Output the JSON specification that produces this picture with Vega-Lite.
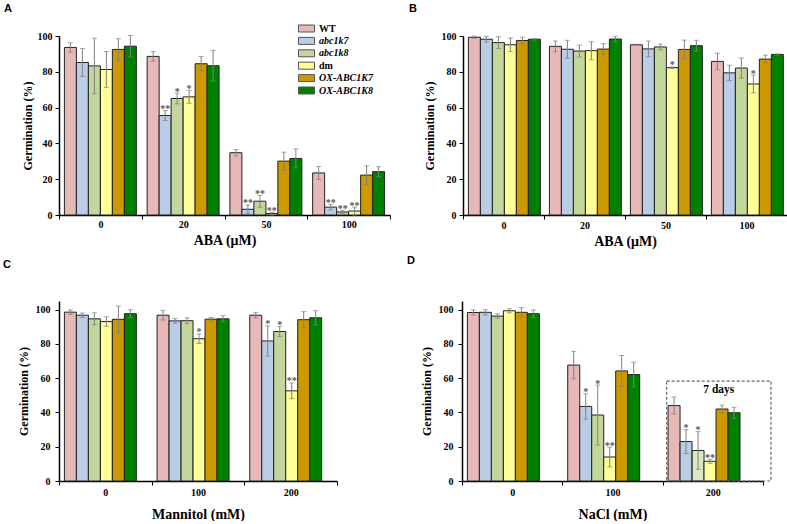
{
  "$schema": "https://vega.github.io/schema/vega-lite/v6.json",
  "padding": {"left": 3, "top": 2, "right": 0, "bottom": 0},
  "background": "white",
  "datasets": {
    "A": [
      {"g": "0", "geno": "WT", "m": 93.6, "e": 2.6, "s": ""},
      {"g": "0", "geno": "abc1k7", "m": 85.2, "e": 7.8, "s": ""},
      {"g": "0", "geno": "abc1k8", "m": 83.3, "e": 15.5, "s": ""},
      {"g": "0", "geno": "dm", "m": 81.3, "e": 10, "s": ""},
      {"g": "0", "geno": "OX-ABC1K7", "m": 92.5, "e": 6, "s": ""},
      {"g": "0", "geno": "OX-ABC1K8", "m": 94.3, "e": 6, "s": ""},
      {"g": "20", "geno": "WT", "m": 88.6, "e": 2.7, "s": ""},
      {"g": "20", "geno": "abc1k7", "m": 55.6, "e": 2.8, "s": "**"},
      {"g": "20", "geno": "abc1k8", "m": 65.1, "e": 3, "s": "*"},
      {"g": "20", "geno": "dm", "m": 66, "e": 3.6, "s": "*"},
      {"g": "20", "geno": "OX-ABC1K7", "m": 84.5, "e": 4, "s": ""},
      {"g": "20", "geno": "OX-ABC1K8", "m": 83.4, "e": 8.6, "s": ""},
      {"g": "50", "geno": "WT", "m": 34.8, "e": 1.8, "s": ""},
      {"g": "50", "geno": "abc1k7", "m": 3.2, "e": 2.4, "s": "**"},
      {"g": "50", "geno": "abc1k8", "m": 7.7, "e": 3.3, "s": "**"},
      {"g": "50", "geno": "dm", "m": 0.8, "e": 0.8, "s": "**"},
      {"g": "50", "geno": "OX-ABC1K7", "m": 30.1, "e": 5, "s": ""},
      {"g": "50", "geno": "OX-ABC1K8", "m": 31.6, "e": 5.3, "s": ""},
      {"g": "100", "geno": "WT", "m": 23.5, "e": 3.6, "s": ""},
      {"g": "100", "geno": "abc1k7", "m": 4.4, "e": 1.6, "s": "**"},
      {"g": "100", "geno": "abc1k8", "m": 1.7, "e": 1, "s": "**"},
      {"g": "100", "geno": "dm", "m": 2.2, "e": 2.2, "s": "**"},
      {"g": "100", "geno": "OX-ABC1K7", "m": 22.3, "e": 5.2, "s": ""},
      {"g": "100", "geno": "OX-ABC1K8", "m": 24.2, "e": 2.8, "s": ""}
    ],
    "B": [
      {"g": "0", "geno": "WT", "m": 99.3, "e": 0.6, "s": ""},
      {"g": "0", "geno": "abc1k7", "m": 98.2, "e": 1.6, "s": ""},
      {"g": "0", "geno": "abc1k8", "m": 96.3, "e": 3.3, "s": ""},
      {"g": "0", "geno": "dm", "m": 95.1, "e": 3.8, "s": ""},
      {"g": "0", "geno": "OX-ABC1K7", "m": 97.5, "e": 1.8, "s": ""},
      {"g": "0", "geno": "OX-ABC1K8", "m": 98.2, "e": 0.4, "s": ""},
      {"g": "20", "geno": "WT", "m": 94.2, "e": 3, "s": ""},
      {"g": "20", "geno": "abc1k7", "m": 92.6, "e": 5, "s": ""},
      {"g": "20", "geno": "abc1k8", "m": 91.6, "e": 3.3, "s": ""},
      {"g": "20", "geno": "dm", "m": 91.8, "e": 5, "s": ""},
      {"g": "20", "geno": "OX-ABC1K7", "m": 92.7, "e": 3, "s": ""},
      {"g": "20", "geno": "OX-ABC1K8", "m": 98.3, "e": 1.5, "s": ""},
      {"g": "50", "geno": "WT", "m": 95.1, "e": 0.3, "s": ""},
      {"g": "50", "geno": "abc1k7", "m": 92.8, "e": 4.4, "s": ""},
      {"g": "50", "geno": "abc1k8", "m": 93.9, "e": 1.6, "s": ""},
      {"g": "50", "geno": "dm", "m": 82.3, "e": 0.4, "s": "*"},
      {"g": "50", "geno": "OX-ABC1K7", "m": 92.5, "e": 5.2, "s": ""},
      {"g": "50", "geno": "OX-ABC1K8", "m": 94.6, "e": 3, "s": ""},
      {"g": "100", "geno": "WT", "m": 85.8, "e": 4.6, "s": ""},
      {"g": "100", "geno": "abc1k7", "m": 79.4, "e": 4.3, "s": ""},
      {"g": "100", "geno": "abc1k8", "m": 82.1, "e": 5.6, "s": ""},
      {"g": "100", "geno": "dm", "m": 73.2, "e": 5, "s": "*"},
      {"g": "100", "geno": "OX-ABC1K7", "m": 87.1, "e": 2.2, "s": ""},
      {"g": "100", "geno": "OX-ABC1K8", "m": 89.7, "e": 0.3, "s": ""}
    ],
    "C": [
      {"g": "0", "geno": "WT", "m": 98.5, "e": 1.3, "s": ""},
      {"g": "0", "geno": "abc1k7", "m": 96.7, "e": 1.3, "s": ""},
      {"g": "0", "geno": "abc1k8", "m": 94.6, "e": 3.5, "s": ""},
      {"g": "0", "geno": "dm", "m": 93, "e": 2.8, "s": ""},
      {"g": "0", "geno": "OX-ABC1K7", "m": 94.3, "e": 7.8, "s": ""},
      {"g": "0", "geno": "OX-ABC1K8", "m": 97.6, "e": 2.3, "s": ""},
      {"g": "100", "geno": "WT", "m": 96.7, "e": 2.8, "s": ""},
      {"g": "100", "geno": "abc1k7", "m": 93.4, "e": 1.4, "s": ""},
      {"g": "100", "geno": "abc1k8", "m": 93.5, "e": 1.7, "s": ""},
      {"g": "100", "geno": "dm", "m": 83, "e": 2.8, "s": "*"},
      {"g": "100", "geno": "OX-ABC1K7", "m": 94.4, "e": 1, "s": ""},
      {"g": "100", "geno": "OX-ABC1K8", "m": 94.6, "e": 1.8, "s": ""},
      {"g": "200", "geno": "WT", "m": 96.7, "e": 1.5, "s": ""},
      {"g": "200", "geno": "abc1k7", "m": 81.7, "e": 8.8, "s": "*"},
      {"g": "200", "geno": "abc1k8", "m": 87.2, "e": 3, "s": "*"},
      {"g": "200", "geno": "dm", "m": 52.6, "e": 4.6, "s": "**"},
      {"g": "200", "geno": "OX-ABC1K7", "m": 94.1, "e": 4.7, "s": ""},
      {"g": "200", "geno": "OX-ABC1K8", "m": 95.2, "e": 4.2, "s": ""}
    ],
    "D": [
      {"g": "0", "geno": "WT", "m": 98.3, "e": 1.5, "s": ""},
      {"g": "0", "geno": "abc1k7", "m": 98.4, "e": 1.5, "s": ""},
      {"g": "0", "geno": "abc1k8", "m": 96.2, "e": 1.3, "s": ""},
      {"g": "0", "geno": "dm", "m": 99.3, "e": 1.2, "s": ""},
      {"g": "0", "geno": "OX-ABC1K7", "m": 98.4, "e": 2.7, "s": ""},
      {"g": "0", "geno": "OX-ABC1K8", "m": 97.6, "e": 2.2, "s": ""},
      {"g": "100", "geno": "WT", "m": 67.6, "e": 8, "s": ""},
      {"g": "100", "geno": "abc1k7", "m": 43.5, "e": 7.4, "s": "*"},
      {"g": "100", "geno": "abc1k8", "m": 38.5, "e": 17.5, "s": "*"},
      {"g": "100", "geno": "dm", "m": 14, "e": 5.8, "s": "**"},
      {"g": "100", "geno": "OX-ABC1K7", "m": 64.2, "e": 9, "s": ""},
      {"g": "100", "geno": "OX-ABC1K8", "m": 62.1, "e": 7.2, "s": ""},
      {"g": "200", "geno": "WT", "m": 44, "e": 5, "s": ""},
      {"g": "200", "geno": "abc1k7", "m": 23, "e": 7, "s": "*"},
      {"g": "200", "geno": "abc1k8", "m": 17.8, "e": 11, "s": "*"},
      {"g": "200", "geno": "dm", "m": 11.5, "e": 1.2, "s": "**"},
      {"g": "200", "geno": "OX-ABC1K7", "m": 42, "e": 2.3, "s": ""},
      {"g": "200", "geno": "OX-ABC1K8", "m": 39.8, "e": 3.2, "s": ""}
    ]
  },
  "spacing": 7,
  "resolve": {"scale": {"color": "independent"}},
  "vconcat": [
    {
      "spacing": 18,
      "resolve": {"scale": {"color": "independent"}},
      "hconcat": [
        {
          "data": {"name": "A"},
          "width": 331,
          "height": 179,
          "title": {"text": "A", "anchor": "start", "frame": "group", "dx": -55, "offset": 9},
          "transform": [{"calculate": "datum.m - datum.e", "as": "lo"}, {"calculate": "datum.m + datum.e", "as": "hi"}],
          "encoding": {
            "x": {"field": "g", "type": "nominal", "sort": null, "title": "ABA (μM)", "scale": {"paddingInner": 0, "paddingOuter": 0}, "axis": {"labelPadding": 0, "titlePadding": 4}},
            "xOffset": {"field": "geno", "type": "nominal", "sort": ["WT", "abc1k7", "abc1k8", "dm", "OX-ABC1K7", "OX-ABC1K8"], "scale": {"paddingInner": 0, "paddingOuter": 0.45}}
          },
          "layer": [
            {
              "mark": {"type": "bar", "stroke": "#222222", "strokeWidth": 1},
              "encoding": {
                "y": {"field": "m", "type": "quantitative", "title": "Germination (%)", "scale": {"domain": [0, 100], "nice": false}, "axis": {"titlePadding": 3}},
                "color": {"field": "geno", "type": "nominal", "sort": ["WT", "abc1k7", "abc1k8", "dm", "OX-ABC1K7", "OX-ABC1K8"],
                  "scale": {"domain": ["WT", "abc1k7", "abc1k8", "dm", "OX-ABC1K7", "OX-ABC1K8"], "range": ["#E6B9B8", "#B9CDE5", "#C3D69B", "#FFFF99", "#CC9900", "#008000"]},
                  "legend": {"orient": "none", "legendX": 242, "legendY": -13, "title": null, "padding": 0,
                    "symbolType": "M-1.6,-0.7H1.6V0.7H-1.6Z", "symbolSize": 100, "symbolStrokeColor": "#555555", "symbolStrokeWidth": 1,
                    "labelFont": "Liberation Serif", "labelFontWeight": "bold", "labelFontSize": 10, "labelColor": "#000000",
                    "labelOffset": 7, "rowPadding": 1.4,
                    "encoding": {"labels": {"fontStyle": {"condition": {"test": "datum.value === 'WT' || datum.value === 'dm'", "value": "normal"}, "value": "italic"}}}
                  }
                }
              }
            },
            {"mark": {"type": "rule", "color": "#808080", "strokeWidth": 1}, "encoding": {"y": {"field": "lo", "type": "quantitative"}, "y2": {"field": "hi"}}},
            {"mark": {"type": "tick", "color": "#808080", "size": 5, "thickness": 1}, "encoding": {"y": {"field": "hi", "type": "quantitative"}}},
            {"mark": {"type": "tick", "color": "#808080", "size": 5, "thickness": 1}, "encoding": {"y": {"field": "lo", "type": "quantitative"}}},
            {"mark": {"type": "text", "color": "#555555", "font": "Liberation Serif", "fontSize": 10, "fontWeight": "bold", "baseline": "alphabetic", "dy": 1.5}, "encoding": {"y": {"field": "hi", "type": "quantitative"}, "text": {"field": "s"}}}
          ]
        },
        {
          "data": {"name": "B"},
          "width": 324,
          "height": 179,
          "title": {"text": "B", "anchor": "start", "frame": "group", "dx": -54, "offset": 16},
          "transform": [{"calculate": "datum.m - datum.e", "as": "lo"}, {"calculate": "datum.m + datum.e", "as": "hi"}],
          "encoding": {
            "x": {"field": "g", "type": "nominal", "sort": null, "title": "ABA (μM)", "scale": {"paddingInner": 0, "paddingOuter": 0}, "axis": {"labelPadding": 1, "titlePadding": 4}},
            "xOffset": {"field": "geno", "type": "nominal", "sort": ["WT", "abc1k7", "abc1k8", "dm", "OX-ABC1K7", "OX-ABC1K8"], "scale": {"paddingInner": 0, "paddingOuter": 0.72}}
          },
          "layer": [
            {
              "mark": {"type": "bar", "stroke": "#222222", "strokeWidth": 1},
              "encoding": {
                "y": {"field": "m", "type": "quantitative", "title": "Germination (%)", "scale": {"domain": [0, 100], "nice": false}, "axis": {"titlePadding": 5}},
                "color": {"field": "geno", "type": "nominal",
                  "scale": {"domain": ["WT", "abc1k7", "abc1k8", "dm", "OX-ABC1K7", "OX-ABC1K8"], "range": ["#E6B9B8", "#B9CDE5", "#C3D69B", "#FFFF99", "#CC9900", "#008000"]},
                  "legend": null}
              }
            },
            {"mark": {"type": "rule", "color": "#808080", "strokeWidth": 1}, "encoding": {"y": {"field": "lo", "type": "quantitative"}, "y2": {"field": "hi"}}},
            {"mark": {"type": "tick", "color": "#808080", "size": 5, "thickness": 1}, "encoding": {"y": {"field": "hi", "type": "quantitative"}}},
            {"mark": {"type": "tick", "color": "#808080", "size": 5, "thickness": 1}, "encoding": {"y": {"field": "lo", "type": "quantitative"}}},
            {"mark": {"type": "text", "color": "#555555", "font": "Liberation Serif", "fontSize": 10, "fontWeight": "bold", "baseline": "alphabetic", "dy": 1.5}, "encoding": {"y": {"field": "hi", "type": "quantitative"}, "text": {"field": "s"}}}
          ]
        }
      ]
    },
    {
      "spacing": 69,
      "resolve": {"scale": {"color": "independent"}},
      "hconcat": [
        {
          "data": {"name": "C"},
          "width": 278,
          "height": 180,
          "title": {"text": "C", "anchor": "start", "frame": "group", "dx": -56, "offset": 29},
          "transform": [{"calculate": "datum.m - datum.e", "as": "lo"}, {"calculate": "datum.m + datum.e", "as": "hi"}],
          "encoding": {
            "x": {"field": "g", "type": "nominal", "sort": null, "title": "Mannitol (mM)", "scale": {"paddingInner": 0, "paddingOuter": 0}, "axis": {"labelPadding": 2, "titlePadding": 10}},
            "xOffset": {"field": "geno", "type": "nominal", "sort": ["WT", "abc1k7", "abc1k8", "dm", "OX-ABC1K7", "OX-ABC1K8"], "scale": {"paddingInner": 0, "paddingOuter": 0.72}}
          },
          "layer": [
            {
              "mark": {"type": "bar", "stroke": "#222222", "strokeWidth": 1},
              "encoding": {
                "y": {"field": "m", "type": "quantitative", "title": "Germination (%)", "scale": {"domain": [0, 105], "nice": false}, "axis": {"labelPadding": 5, "titlePadding": 5}},
                "color": {"field": "geno", "type": "nominal",
                  "scale": {"domain": ["WT", "abc1k7", "abc1k8", "dm", "OX-ABC1K7", "OX-ABC1K8"], "range": ["#E6B9B8", "#B9CDE5", "#C3D69B", "#FFFF99", "#CC9900", "#008000"]},
                  "legend": null}
              }
            },
            {"mark": {"type": "rule", "color": "#808080", "strokeWidth": 1}, "encoding": {"y": {"field": "lo", "type": "quantitative"}, "y2": {"field": "hi"}}},
            {"mark": {"type": "tick", "color": "#808080", "size": 5, "thickness": 1}, "encoding": {"y": {"field": "hi", "type": "quantitative"}}},
            {"mark": {"type": "tick", "color": "#808080", "size": 5, "thickness": 1}, "encoding": {"y": {"field": "lo", "type": "quantitative"}}},
            {"mark": {"type": "text", "color": "#555555", "font": "Liberation Serif", "fontSize": 10, "fontWeight": "bold", "baseline": "alphabetic", "dy": 1.5}, "encoding": {"y": {"field": "hi", "type": "quantitative"}, "text": {"field": "s"}}}
          ]
        },
        {
          "width": 301,
          "height": 180,
          "title": {"text": "D", "anchor": "start", "frame": "group", "dx": -55, "offset": 35},
          "layer": [
            {
              "data": {"name": "D"},
              "transform": [{"calculate": "datum.m - datum.e", "as": "lo"}, {"calculate": "datum.m + datum.e", "as": "hi"}],
              "encoding": {
                "x": {"field": "g", "type": "nominal", "sort": null, "title": "NaCl (mM)", "scale": {"paddingInner": 0, "paddingOuter": 0}, "axis": {"labelPadding": 2, "titlePadding": 10}},
                "xOffset": {"field": "geno", "type": "nominal", "sort": ["WT", "abc1k7", "abc1k8", "dm", "OX-ABC1K7", "OX-ABC1K8"], "scale": {"paddingInner": 0, "paddingOuter": 0.72}}
              },
              "layer": [
                {
                  "mark": {"type": "bar", "stroke": "#222222", "strokeWidth": 1},
                  "encoding": {
                    "y": {"field": "m", "type": "quantitative", "title": "Germination (%)", "scale": {"domain": [0, 105], "nice": false}, "axis": {"labelPadding": 5, "titlePadding": 5}},
                    "color": {"field": "geno", "type": "nominal",
                      "scale": {"domain": ["WT", "abc1k7", "abc1k8", "dm", "OX-ABC1K7", "OX-ABC1K8"], "range": ["#E6B9B8", "#B9CDE5", "#C3D69B", "#FFFF99", "#CC9900", "#008000"]},
                      "legend": null},
                    "fillOpacity": {"condition": {"test": "datum.g === '200' && datum.geno === 'abc1k8'", "value": 0.6}, "value": 1}
                  }
                },
                {"mark": {"type": "rule", "color": "#808080", "strokeWidth": 1}, "encoding": {"y": {"field": "lo", "type": "quantitative"}, "y2": {"field": "hi"}}},
                {"mark": {"type": "tick", "color": "#808080", "size": 5, "thickness": 1}, "encoding": {"y": {"field": "hi", "type": "quantitative"}}},
                {"mark": {"type": "tick", "color": "#808080", "size": 5, "thickness": 1}, "encoding": {"y": {"field": "lo", "type": "quantitative"}}},
                {"mark": {"type": "text", "color": "#555555", "font": "Liberation Serif", "fontSize": 10, "fontWeight": "bold", "baseline": "alphabetic", "dy": 1.5}, "encoding": {"y": {"field": "hi", "type": "quantitative"}, "text": {"field": "s"}}}
              ]
            },
            {
              "data": {"values": [{"g": "200", "top": 58.3, "bot": 0}]},
              "mark": {"type": "rect", "fill": null, "fillOpacity": 0, "stroke": "#666666", "strokeWidth": 1.2, "strokeDash": [3, 2], "width": {"band": 1.04}, "xOffset": 6},
              "encoding": {"x": {"field": "g", "type": "nominal"}, "y": {"field": "top", "type": "quantitative"}, "y2": {"field": "bot"}}
            },
            {
              "data": {"values": [{"g": "200", "y": 53, "t": "7 days"}]},
              "mark": {"type": "text", "font": "Liberation Serif", "fontSize": 11.5, "fontWeight": "bold", "color": "#000000", "baseline": "middle", "dx": 6},
              "encoding": {"x": {"field": "g", "type": "nominal"}, "y": {"field": "y", "type": "quantitative"}, "text": {"field": "t"}}
            }
          ]
        }
      ]
    }
  ],
  "config": {
    "view": {"stroke": null},
    "title": {"font": "Liberation Sans", "fontSize": 11, "fontWeight": "bold", "color": "#000000"},
    "axis": {
      "labelFont": "Liberation Serif", "labelFontWeight": "bold", "labelFontSize": 10, "labelColor": "#000000",
      "titleFont": "Liberation Serif", "titleFontWeight": "bold", "titleColor": "#000000",
      "domainColor": "#000000", "domainWidth": 1.5, "tickColor": "#000000", "tickWidth": 1, "tickSize": 4, "grid": false
    },
    "axisX": {"tickBand": "extent", "labelAngle": 0, "titleFontSize": 14},
    "axisY": {"values": [0, 20, 40, 60, 80, 100], "titleFontSize": 12, "labelPadding": 3}
  }
}
